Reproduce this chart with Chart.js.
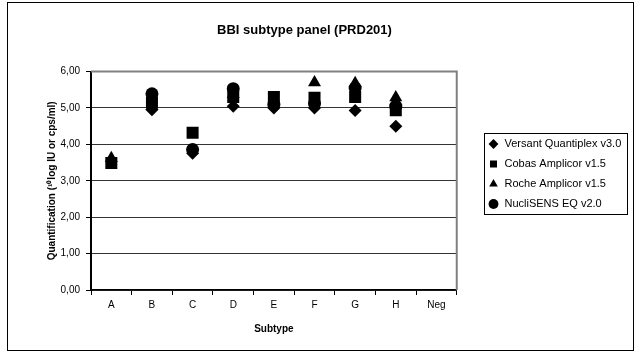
<!DOCTYPE html>
<html>
<head>
<meta charset="utf-8">
<title>BBI subtype panel (PRD201)</title>
<script src="https://cdn.jsdelivr.net/npm/chart.js@4.4.1/dist/chart.umd.min.js"></script>
<style>
  html, body { margin: 0; padding: 0; background: #fff; }
  #wrap { width: 637px; height: 352px; }
</style>
</head>
<body>
<div id="wrap"><canvas id="bbiChart" width="637" height="352"></canvas></div>
<script>
const subtypes = ["A", "B", "C", "D", "E", "F", "G", "H", "Neg"];

const versantValues = [null, 4.95, 3.76, 5.05, 5.0, 5.0, 4.93, 4.5, null];
const cobasValues = [3.49, 5.15, 4.32, 5.3, 5.3, 5.28, 5.3, 4.94, null];
const rocheValues = [3.62, 5.05, null, 5.38, 5.15, 5.7, 5.68, 5.29, null];
const nuclisensValues = [null, 5.39, 3.86, 5.53, 5.1, 5.12, 5.55, 5.05, null];

const FONT = "'Liberation Sans', Arial, sans-serif";

// white background, outer border and the grey plot frame
const framePlugin = {
  id: "frame",
  beforeDraw(chart) {
    const { ctx, width, height } = chart;
    ctx.save();
    ctx.fillStyle = "#fff";
    ctx.fillRect(0, 0, width, height);
    ctx.restore();
  },
  afterDatasetsDraw(chart) {
    const { ctx, chartArea: a } = chart;
    ctx.save();
    ctx.strokeStyle = "#808080";
    ctx.lineWidth = 2;
    ctx.beginPath();
    ctx.moveTo(a.left, a.top);
    ctx.lineTo(a.right, a.top);
    ctx.lineTo(a.right, a.bottom);
    ctx.stroke();
    ctx.restore();
  },
  afterLayout(chart) {
    // nudge the legend next to the plot, like the original
    const lg = chart.legend;
    const dx = 479 - lg.left;
    lg.left += dx;
    lg.right += dx;
    lg.top -= 2;
    lg.bottom -= 2;
  },
  afterDraw(chart) {
    const { ctx, width, height } = chart;
    ctx.save();
    ctx.strokeStyle = "#000";
    ctx.lineWidth = 1;
    ctx.strokeRect(7.5, 2.5, width - 11, height - 4);

    const boxes = chart.legend.legendHitBoxes;
    if (boxes && boxes.length) {
      const first = boxes[0];
      const last = boxes[boxes.length - 1];
      const x0 = 484.5;
      const y0 = Math.round(first.top + first.height / 2) - 10.5;
      const y1 = Math.round(last.top + last.height / 2) + 10.5;
      ctx.strokeRect(x0, y0, 143, y1 - y0);
    }
    ctx.restore();
  },
};

const pointSet = (label, data, style, radius) => ({
  label,
  data,
  pointStyle: style,
  pointRadius: radius,
  pointHoverRadius: radius,
  backgroundColor: "#000",
  borderColor: "#000",
  pointBorderWidth: 0,
  showLine: false,
});

new Chart(document.getElementById("bbiChart"), {
  type: "line",
  data: {
    labels: subtypes,
    datasets: [
      pointSet("Versant Quantiplex v3.0", versantValues, "rectRot", 6.5),
      pointSet("Cobas Amplicor v1.5", cobasValues, "rect", 8.5),
      pointSet("Roche Amplicor v1.5", rocheValues, "triangle", 7.5),
      pointSet("NucliSENS EQ v2.0", nuclisensValues, "circle", 6.5),
    ],
  },
  options: {
    responsive: false,
    animation: false,
    layout: { padding: { left: 0, top: 0, right: 28, bottom: 0 } },
    plugins: {
      title: {
        display: true,
        text: "BBI subtype panel (PRD201)",
        color: "#000",
        font: { family: FONT, size: 13, weight: "bold" },
        padding: { top: 23, bottom: 33 },
      },
      legend: {
        position: "right",
        labels: {
          usePointStyle: true,
          boxHeight: 7,
          padding: 9,
          color: "#000",
          font: { family: FONT, size: 11 },
        },
      },
      tooltip: { enabled: false },
    },
    scales: {
      x: {
        offset: true,
        afterFit(scale) {
          scale.height = 62;
        },
        grid: {
          offset: true,
          drawOnChartArea: false,
          drawTicks: true,
          tickLength: 5,
          tickColor: "#000",
        },
        border: { display: true, color: "#000", width: 1.5 },
        ticks: {
          color: "#000",
          padding: 4,
          font: { family: FONT, size: 10 },
        },
        title: {
          display: true,
          text: "Subtype",
          color: "#000",
          font: { family: FONT, size: 10, weight: "bold" },
          padding: { top: 0, bottom: 17 },
        },
      },
      y: {
        min: 0,
        max: 6,
        afterFit(scale) {
          scale.width = 91;
        },
        grid: {
          color: "#333",
          lineWidth: 1,
          drawTicks: true,
          tickLength: 5,
          tickColor: "#000",
        },
        border: { display: true, color: "#000", width: 2 },
        ticks: {
          stepSize: 1,
          color: "#000",
          padding: 6,
          font: { family: FONT, size: 10 },
          callback(value) {
            return value.toFixed(2).replace(".", ",");
          },
        },
        title: {
          display: true,
          text: "Quantification (¹⁰log IU or cps/ml)",
          color: "#000",
          font: { family: FONT, size: 10, weight: "bold" },
          padding: { top: 46, bottom: 0 },
        },
      },
    },
  },
  plugins: [framePlugin],
});
</script>
</body>
</html>
